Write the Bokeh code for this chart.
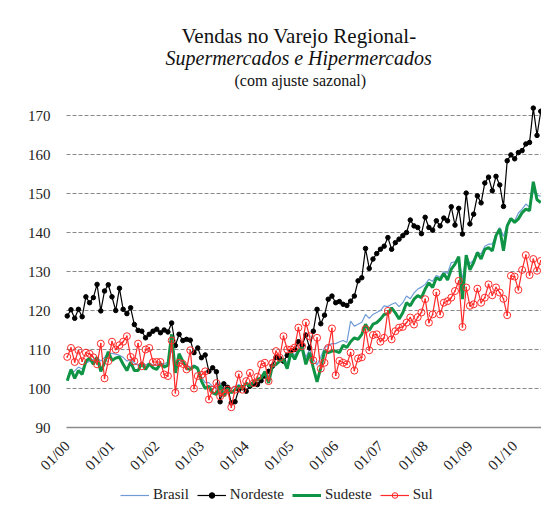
import math
from bokeh.plotting import figure
from bokeh.models import (ColumnDataSource, Range1d, FixedTicker, Title, Legend, LegendItem)
from bokeh.embed import file_html
from bokeh.resources import INLINE

# ---- data (monthly, 01/2000 .. 08/2010) ----
tick_labels = ["01/00", "01/01", "01/02", "01/03", "01/04", "01/05",
               "01/06", "01/07", "01/08", "01/09", "01/10"]
y_ticks = [90, 100, 110, 120, 130, 140, 150, 160, 170]

brasil = [
    103.0, 104.0, 104.5, 105.5, 105.0, 106.5, 107.0, 107.5, 108.0, 107.0, 108.0, 109.0,
    109.0, 108.8, 108.5, 108.0, 107.0, 107.5, 106.5, 106.0, 106.8, 106.0, 106.5, 106.0,
    106.0, 106.5, 106.2, 106.8, 110.0, 105.0, 107.5, 106.5, 106.0, 105.5, 106.0, 105.5,
    103.0, 101.5, 101.5, 100.5, 100.0, 101.5, 99.5, 100.5, 100.0, 100.5, 101.0, 100.5,
    101.5, 101.0, 102.0, 102.5, 103.0, 104.5, 103.0, 105.5, 106.0, 107.0, 107.5, 106.5,
    109.5, 108.5, 110.0, 111.0, 108.0, 110.0, 107.5, 106.0, 108.0, 110.5, 111.0, 111.5,
    111.5, 112.0, 112.3, 111.8, 117.3, 116.0, 116.5, 117.0, 119.0, 118.0, 119.0, 119.5,
    120.0, 121.2, 121.0, 121.6, 122.0, 121.0, 122.0, 123.7, 123.0, 124.5, 125.5, 126.0,
    126.7, 128.0, 127.5, 129.0, 128.5, 130.0, 129.5, 132.3, 132.5, 133.5, 128.0, 134.0,
    132.0, 133.0, 135.0, 134.5, 136.5, 137.0, 137.0, 139.5, 141.3, 139.0, 142.0, 143.5,
    143.0, 145.0, 146.0, 147.3, 146.5, 150.5, 149.6, 149.3,
]

nordeste = [
    118.6, 120.2, 118.0, 120.3, 118.4, 123.5, 122.0, 123.3, 126.7, 119.9, 125.0, 126.6,
    123.5, 120.0, 125.7, 120.3, 119.2, 120.7, 116.4, 114.9, 114.7, 113.0, 113.9, 114.7,
    115.2, 114.3, 115.0, 114.5, 116.8, 111.0, 113.9, 112.3, 112.6, 112.4, 109.2, 110.4,
    107.9, 108.6, 104.4, 105.3, 104.3, 96.6, 101.2, 100.3, 96.3, 96.6, 99.7, 100.2,
    99.3, 100.6, 101.2, 101.0, 102.0, 103.2, 104.4, 105.7, 108.0, 107.7, 107.0, 108.5,
    109.6, 110.0, 112.0, 111.1, 113.7, 110.4, 114.7, 120.3, 116.6, 118.8, 122.9, 123.7,
    122.0, 122.3, 121.6, 121.3, 122.4, 123.7, 127.6, 128.4, 135.9, 130.8, 133.2, 134.6,
    135.7, 136.5, 138.7, 135.7, 137.4, 138.3, 139.2, 140.0, 143.2, 141.7, 141.3, 139.7,
    143.9, 141.3, 140.6, 143.0, 141.7, 143.7, 143.0, 146.6, 141.9, 146.2, 139.6, 150.1,
    142.2, 144.7, 149.4, 147.6, 152.7, 154.2, 150.7, 154.4, 152.2, 146.7, 158.4, 159.9,
    158.9, 160.5, 161.0, 162.7, 163.1, 171.9, 164.9, 171.1,
]

sudeste = [
    102.0, 104.9, 102.6, 104.6, 103.6, 107.0, 107.8, 106.2, 108.0, 104.4, 106.6, 109.4,
    107.2, 107.8, 108.0, 106.2, 104.6, 106.8, 104.6, 104.6, 106.6, 104.9, 106.3, 105.3,
    104.9, 106.3, 105.5, 106.0, 113.9, 104.0, 108.9, 107.0, 105.1, 104.9, 105.7, 105.1,
    101.9, 100.0, 100.6, 98.9, 98.5, 100.9, 98.0, 100.0, 98.9, 99.7, 100.6, 100.0,
    101.4, 100.6, 101.7, 102.3, 102.7, 104.3, 101.4, 105.7, 106.2, 107.0, 107.4, 105.1,
    109.2, 107.5, 109.6, 110.5, 106.2, 109.2, 105.3, 101.7, 105.3, 109.6, 109.2, 109.6,
    109.6, 109.2, 111.1, 110.5, 112.0, 113.0, 112.6, 113.9, 116.5, 114.9, 116.5, 116.9,
    117.8, 119.0, 119.2, 120.7, 119.4, 117.8, 119.4, 122.0, 121.2, 122.9, 123.8, 123.3,
    125.5, 127.1, 125.9, 128.4, 127.8, 129.5, 127.8, 130.6, 131.9, 133.8, 122.9, 134.2,
    130.4, 132.3, 134.9, 133.2, 135.7, 136.1, 135.3, 139.2, 140.9, 135.3, 141.7, 143.6,
    142.6, 143.5, 145.1, 146.0, 145.6, 153.0, 148.4, 147.7,
]

sul = [
    108.1, 110.4, 106.8, 109.8, 107.0, 109.2, 108.9, 108.0, 106.2, 111.5, 102.6, 107.0,
    112.0, 110.0, 111.1, 112.0, 113.4, 108.1, 107.0, 111.5, 105.7, 110.0, 110.4, 106.8,
    106.8, 106.8, 103.6, 103.2, 112.3, 98.9, 106.6, 106.3, 104.9, 109.8, 100.0, 103.2,
    103.5, 104.4, 97.2, 99.7, 101.4, 98.0, 98.9, 99.7, 95.2, 99.7, 103.6, 99.7,
    101.9, 104.0, 101.4, 103.0, 106.2, 106.6, 101.9, 106.5, 109.6, 107.9, 113.4, 110.0,
    110.0, 110.5, 115.6, 110.9, 116.9, 113.4, 107.2, 113.0, 105.1, 106.6, 110.4, 115.4,
    103.4, 107.1, 106.6, 106.2, 109.2, 104.6, 107.7, 108.0, 115.2, 109.8, 113.7, 113.9,
    112.0, 113.0, 119.9, 112.6, 114.7, 115.6, 115.8, 116.9, 118.2, 116.4, 118.3, 119.5,
    122.9, 116.9, 119.0, 124.6, 119.0, 122.0, 122.4, 123.3, 125.0, 127.6, 115.8, 125.9,
    121.2, 121.6, 125.6, 122.0, 123.3, 126.7, 123.9, 125.9, 124.6, 123.0, 118.8, 128.9,
    128.7, 125.3, 130.4, 134.2, 129.1, 133.2, 130.2, 132.7,
]

n = len(nordeste)
months = list(range(n))
tick_pos = [12 * k for k in range(len(tick_labels))]

src = ColumnDataSource(dict(x=months, brasil=brasil, nordeste=nordeste,
                            sudeste=sudeste, sul=sul))

SERIF = "Liberation Serif"

# plotting area geometry: data area 66..541 px wide, frame spans the whole width
X0, X1 = -0.2, n - 0.8
px_per_unit = 475.0 / (X1 - X0)
X_START = X0 - 66.0 / px_per_unit
Y_MIN, Y_TOP, Y_BOTTOM = 90, 173.85, 70

p = figure(frame_width=541, frame_height=405, output_backend="svg", toolbar_location=None,
           x_range=Range1d(X_START, X1), y_range=Range1d(Y_BOTTOM, Y_TOP),
           min_border_left=0, min_border_right=0, min_border_top=100,
           min_border_bottom=0, background_fill_color="white",
           border_fill_color="white")
p.outline_line_color = None

# titles (added innermost first)
p.add_layout(Title(text="(com ajuste sazonal)", align="left", offset=234, text_font=SERIF,
                   text_font_size="16px", text_font_style="normal",
                   text_color="#111111", standoff=23), "above")
p.add_layout(Title(text="Supermercados e Hipermercados", align="left", offset=165,
                   text_font=SERIF, text_font_size="20px", text_font_style="italic",
                   text_color="#111111", standoff=-20), "above")
p.add_layout(Title(text="Vendas no Varejo Regional-", align="left", offset=181,
                   text_font=SERIF, text_font_size="21px", text_font_style="normal",
                   text_color="#111111", standoff=14), "above")

# axes (drawn inside the frame at fixed positions)
p.yaxis.fixed_location = X0
p.yaxis.ticker = FixedTicker(ticks=y_ticks)
p.yaxis.axis_line_color = None
p.yaxis.major_tick_line_color = None
p.yaxis.minor_tick_line_color = None
p.yaxis.major_label_text_font = SERIF
p.yaxis.major_label_text_font_size = "15px"
p.yaxis.major_label_text_color = "#222222"
p.yaxis.major_label_standoff = 10

p.xaxis.fixed_location = Y_MIN
p.xaxis.bounds = (X0, X1)
p.xaxis.ticker = FixedTicker(ticks=tick_pos)
p.xaxis.major_label_overrides = {t: lab for t, lab in zip(tick_pos, tick_labels)}
p.xaxis.axis_line_color = "#8c8c8c"
p.xaxis.axis_line_width = 1.5
p.xaxis.major_tick_line_color = None
p.xaxis.minor_tick_line_color = None
p.xaxis.major_label_orientation = math.pi / 4
p.xaxis.major_label_text_font = SERIF
p.xaxis.major_label_text_font_size = "15px"
p.xaxis.major_label_text_color = "#222222"
p.xaxis.major_label_standoff = 10

p.xgrid.visible = False
grid_style = dict(line_color="#8a8a8a", line_dash="4 2", line_width=1)
try:
    p.ygrid.ticker = FixedTicker(ticks=y_ticks[1:])
    p.ygrid.cross_bounds = (X0, X1)
    p.ygrid.grid_line_color = grid_style["line_color"]
    p.ygrid.grid_line_dash = grid_style["line_dash"]
    p.ygrid.grid_line_width = grid_style["line_width"]
except AttributeError:
    # fallback: horizontal guide lines at the tick values across the data span
    p.ygrid.visible = False
    gy = y_ticks[1:]
    p.segment(x0=[X0] * len(gy), y0=gy, x1=[X1] * len(gy), y1=gy, level="underlay",
              **grid_style)

# series
r_br = p.line("x", "brasil", source=src, line_color="#6f9bd6", line_width=1.2)
r_ne = p.line("x", "nordeste", source=src, line_color="#000000", line_width=1.2)
r_ne_m = p.scatter("x", "nordeste", source=src, marker="circle", size=4.5,
                   fill_color="#000000", line_color="#000000")
r_se = p.line("x", "sudeste", source=src, line_color="#0e9444", line_width=3)
r_su = p.line("x", "sul", source=src, line_color="#ff2a2a", line_width=1.2)
r_su_m = p.scatter("x", "sul", source=src, marker="circle_dot", size=7,
                   fill_color=None, line_color="#ff2a2a", line_width=1)

legend = Legend(items=[
    LegendItem(label="Brasil", renderers=[r_br]),
    LegendItem(label="Nordeste", renderers=[r_ne, r_ne_m]),
    LegendItem(label="Sudeste", renderers=[r_se]),
    LegendItem(label="Sul", renderers=[r_su, r_su_m]),
], orientation="horizontal", location=(120, 2),
    label_text_font=SERIF, label_text_font_size="15px", label_text_color="#222222",
    glyph_width=29, glyph_height=14, label_standoff=4, spacing=8,
    padding=0, margin=0, border_line_color=None, background_fill_alpha=0)
p.add_layout(legend, "center")

open("out.html", "w").write(file_html(p, INLINE))
